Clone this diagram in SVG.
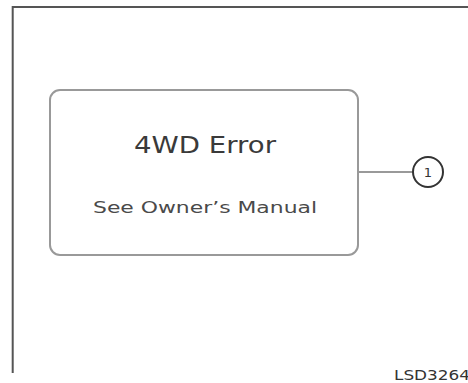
<svg xmlns="http://www.w3.org/2000/svg" width="468" height="383" viewBox="0 0 468 383">
<style>
.frame{fill:none;stroke:#555;stroke-width:2}
.box{fill:#fff;stroke:#999;stroke-width:2}
.conn{fill:none;stroke:#999;stroke-width:2}
.callout{fill:#fff;stroke:#333;stroke-width:2}
text{font-family:"DejaVu Sans","Liberation Sans",sans-serif}
.t1{font-size:23px;fill:#3a3a3a}
.t2{font-size:16px;fill:#4a4a4a}
.num{font-size:13px;fill:#333}
.code{font-size:14px;fill:#333}
</style>
<rect width="468" height="383" fill="#fff"/>
<path class="frame" d="M12.7,373 V7 H468"/>
<g id="connectors">
<line class="conn" x1="359" y1="172" x2="413" y2="172"/>
</g>
<g id="node-4wd-error">
<rect class="box" x="50" y="90" width="308" height="165" rx="10" ry="10"/>
<text class="t1" x="205" y="153" text-anchor="middle" textLength="142" lengthAdjust="spacingAndGlyphs">4WD Error</text>
<text class="t2" x="205" y="213" text-anchor="middle" textLength="224" lengthAdjust="spacingAndGlyphs">See Owner’s Manual</text>
</g>
<g id="callout-1">
<circle class="callout" cx="428" cy="172" r="15"/>
<text class="num" x="428" y="177" text-anchor="middle">1</text>
</g>
<text class="code" x="394" y="380" textLength="76" lengthAdjust="spacingAndGlyphs">LSD3264</text>
</svg>
